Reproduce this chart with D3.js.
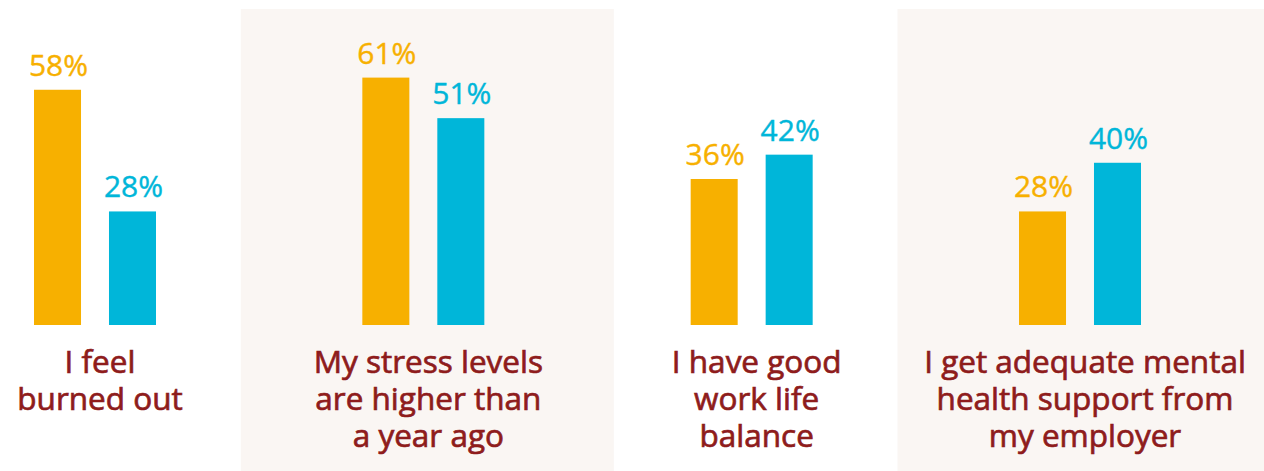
<!DOCTYPE html>
<meta charset="utf-8">

<script src="https://d3js.org/d3.v7.min.js"></script>

<style type="text/css">

body {
  margin: 0;
  background: #fff;
}

svg {
  display: block;
  font-family: "Open Sans", sans-serif;
}

.panel {
  fill: #faf6f3;
}

.valueLabel {
  font-size: 30px;
  stroke-width: 0.4px;
  text-anchor: middle;
}

.catLabel {
  font-size: 31.5px;
  fill: #8e1c1c;
  stroke: #8e1c1c;
  stroke-width: 0.7px;
  text-anchor: middle;
}

</style>

<body>
</body>

<script>

// data
var categories = ['burnout', 'stress', 'balance', 'support'];
var categoryLines = [
  ['I feel', 'burned out'],
  ['My stress levels', 'are higher than', 'a year ago'],
  ['I have good', 'work life', 'balance'],
  ['I get adequate mental', 'health support from', 'my employer']
];
var series = ['orange', 'blue'];
var orangeValues = [58, 61, 36, 28];
var blueValues = [28, 51, 42, 40];
var seriesColors = ['#f7b000', '#00b6d9'];

var width = 1264,
    height = 471;

var svg = d3.select('body').append('svg')
    .attr('width', width)
    .attr('height', height);

// scales
var xScale = d3.scalePoint()
  .domain(categories)
  .range([95, 1080]);

var xInner = d3.scaleBand()
  .domain(series)
  .range([-61, 61])
  .paddingInner(0.373);

var yScale = d3.scaleLinear()
  .domain([0, 61])
  .range([325, 77.6]);

var color = d3.scaleOrdinal()
  .domain(series)
  .range(seriesColors);

// shaded panels behind every second group
var panelWidth = 373;
svg.selectAll('.panel')
  .data(categories.filter(function(d, i) { return i % 2 == 1; }))
  .enter().append('rect')
  .attr('class', 'panel')
  .attr('x', function(d) { return xScale(d) + 4 - panelWidth / 2; })
  .attr('y', 9)
  .attr('width', panelWidth)
  .attr('height', height - 9);

var rows = categories.map(function(c, i) {
  return {cat: c, lines: categoryLines[i], values: [
    {s: 'orange', v: orangeValues[i]},
    {s: 'blue', v: blueValues[i]}
  ]};
});

var group = svg.selectAll('.group')
  .data(rows).enter().append('g')
  .attr('class', 'group')
  .attr('transform', function(d) { return 'translate(' + xScale(d.cat) + ',0)'; });

group.selectAll('rect')
  .data(function(d) { return d.values; })
  .enter().append('rect')
  .attr('x', function(d) { return xInner(d.s); })
  .attr('width', xInner.bandwidth())
  .attr('y', function(d) { return yScale(d.v); })
  .attr('height', function(d) { return yScale(0) - yScale(d.v); })
  .style('fill', function(d) { return color(d.s); });

group.selectAll('.valueLabel')
  .data(function(d) { return d.values; })
  .enter().append('text')
  .attr('class', 'valueLabel')
  .attr('x', function(d) { return xInner(d.s) + xInner.bandwidth() / 2 + 1; })
  .attr('y', function(d) { return yScale(d.v) - 14; })
  .style('fill', function(d) { return color(d.s); })
  .style('stroke', function(d) { return color(d.s); })
  .text(function(d) { return d.v + '%'; });

// category labels
group.append('text')
  .attr('class', 'catLabel')
  .selectAll('tspan')
  .data(function(d) { return d.lines; })
  .enter().append('tspan')
  .attr('x', 5)
  .attr('y', function(d, i) { return 373 + i * 37; })
  .text(function(d) { return d; });

</script>
